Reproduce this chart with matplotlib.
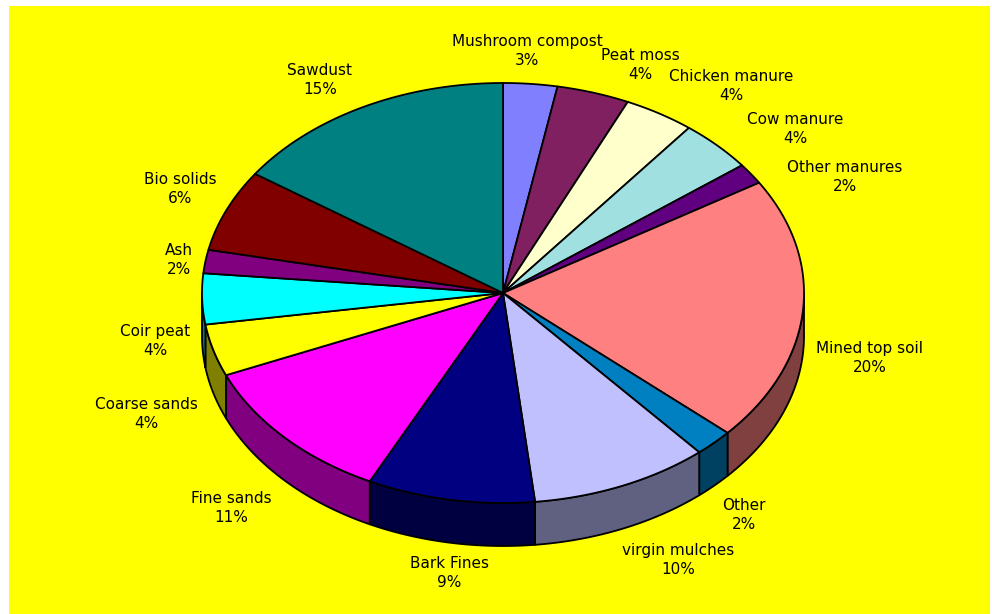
"""
3D-style pie chart of growing media components (Excel look).
"""
import numpy as np
import matplotlib
import matplotlib.pyplot as plt
from matplotlib.colors import to_rgb
from matplotlib.patches import Polygon, Rectangle

matplotlib.use('Agg')

# slices, clockwise from 12 o'clock
materials = ['Mushroom compost', 'Peat moss', 'Chicken manure', 'Cow manure',
             'Other manures', 'Mined top soil', 'Other', 'virgin mulches',
             'Bark Fines', 'Fine sands', 'Coarse sands', 'Coir peat', 'Ash',
             'Bio solids', 'Sawdust']
shares = [2.9, 3.9, 3.8, 4.0, 1.6, 20.4, 2.1, 9.6, 9.0, 11.3, 4.0, 3.9, 1.8, 6.3, 15.4]
colors = ['#8080FF', '#802060', '#FFFFCC', '#A0E0E0', '#600080', '#FF8080',
          '#0080C0', '#C0C0FF', '#000080', '#FF00FF', '#FFFF00', '#00FFFF',
          '#800080', '#800000', '#008080']

# label centres (pixel coords of the 992x614 canvas)
label_pos = [(527, 51), (640, 65), (731, 86), (795, 129), (845, 177),
             (870, 358), (744, 515), (678, 560), (449, 573), (231, 508),
             (146, 414), (155, 341), (179, 260), (180, 189), (320, 80)]

CX, CY, RX, RY, DEPTH = 503, 293, 301, 210, 43


def arc(t0, t1, dy=0):
    """Points on the pie ellipse between angles t0..t1 (deg, clockwise from top)."""
    n = max(2, int(abs(t1 - t0) * 2))
    t = np.radians(np.linspace(t0, t1, n))
    return np.column_stack([CX + RX * np.sin(t), CY + dy - RY * np.cos(t)])


fig = plt.figure(figsize=(9.92, 6.14), dpi=100)
ax = fig.add_axes([0, 0, 1, 1])
ax.set_xlim(0, 992)
ax.set_ylim(614, 0)
ax.axis('off')

ax.add_patch(Rectangle((9, 6), 981, 610, facecolor='#FFFF00', edgecolor='none', zorder=0))

edges = np.concatenate([[0], np.cumsum(shares)]) / sum(shares) * 360

# side walls (only the front half shows)
for i, col in enumerate(colors):
    s0, s1 = max(edges[i], 90), min(edges[i + 1], 270)
    if s1 <= s0:
        continue
    pts = np.vstack([arc(s0, s1), arc(s1, s0, DEPTH)])
    dark = tuple(c * 0.5 for c in to_rgb(col))
    ax.add_patch(Polygon(pts, closed=True, facecolor=dark, edgecolor='black',
                         linewidth=1.3, joinstyle='round', zorder=1))

# top faces
for i, col in enumerate(colors):
    pts = np.vstack([[CX, CY], arc(edges[i], edges[i + 1])])
    ax.add_patch(Polygon(pts, closed=True, facecolor=col, edgecolor='black',
                         linewidth=1.3, joinstyle='round', zorder=2))

for name, val, (x, y) in zip(materials, shares, label_pos):
    ax.text(x, y, f"{name}\n{round(val)}%", ha='center', va='center',
            multialignment='center', fontsize=11, linespacing=1.3,
            family='DejaVu Sans', color='black', zorder=3)

fig.savefig('out.png', dpi=100, facecolor='white')
